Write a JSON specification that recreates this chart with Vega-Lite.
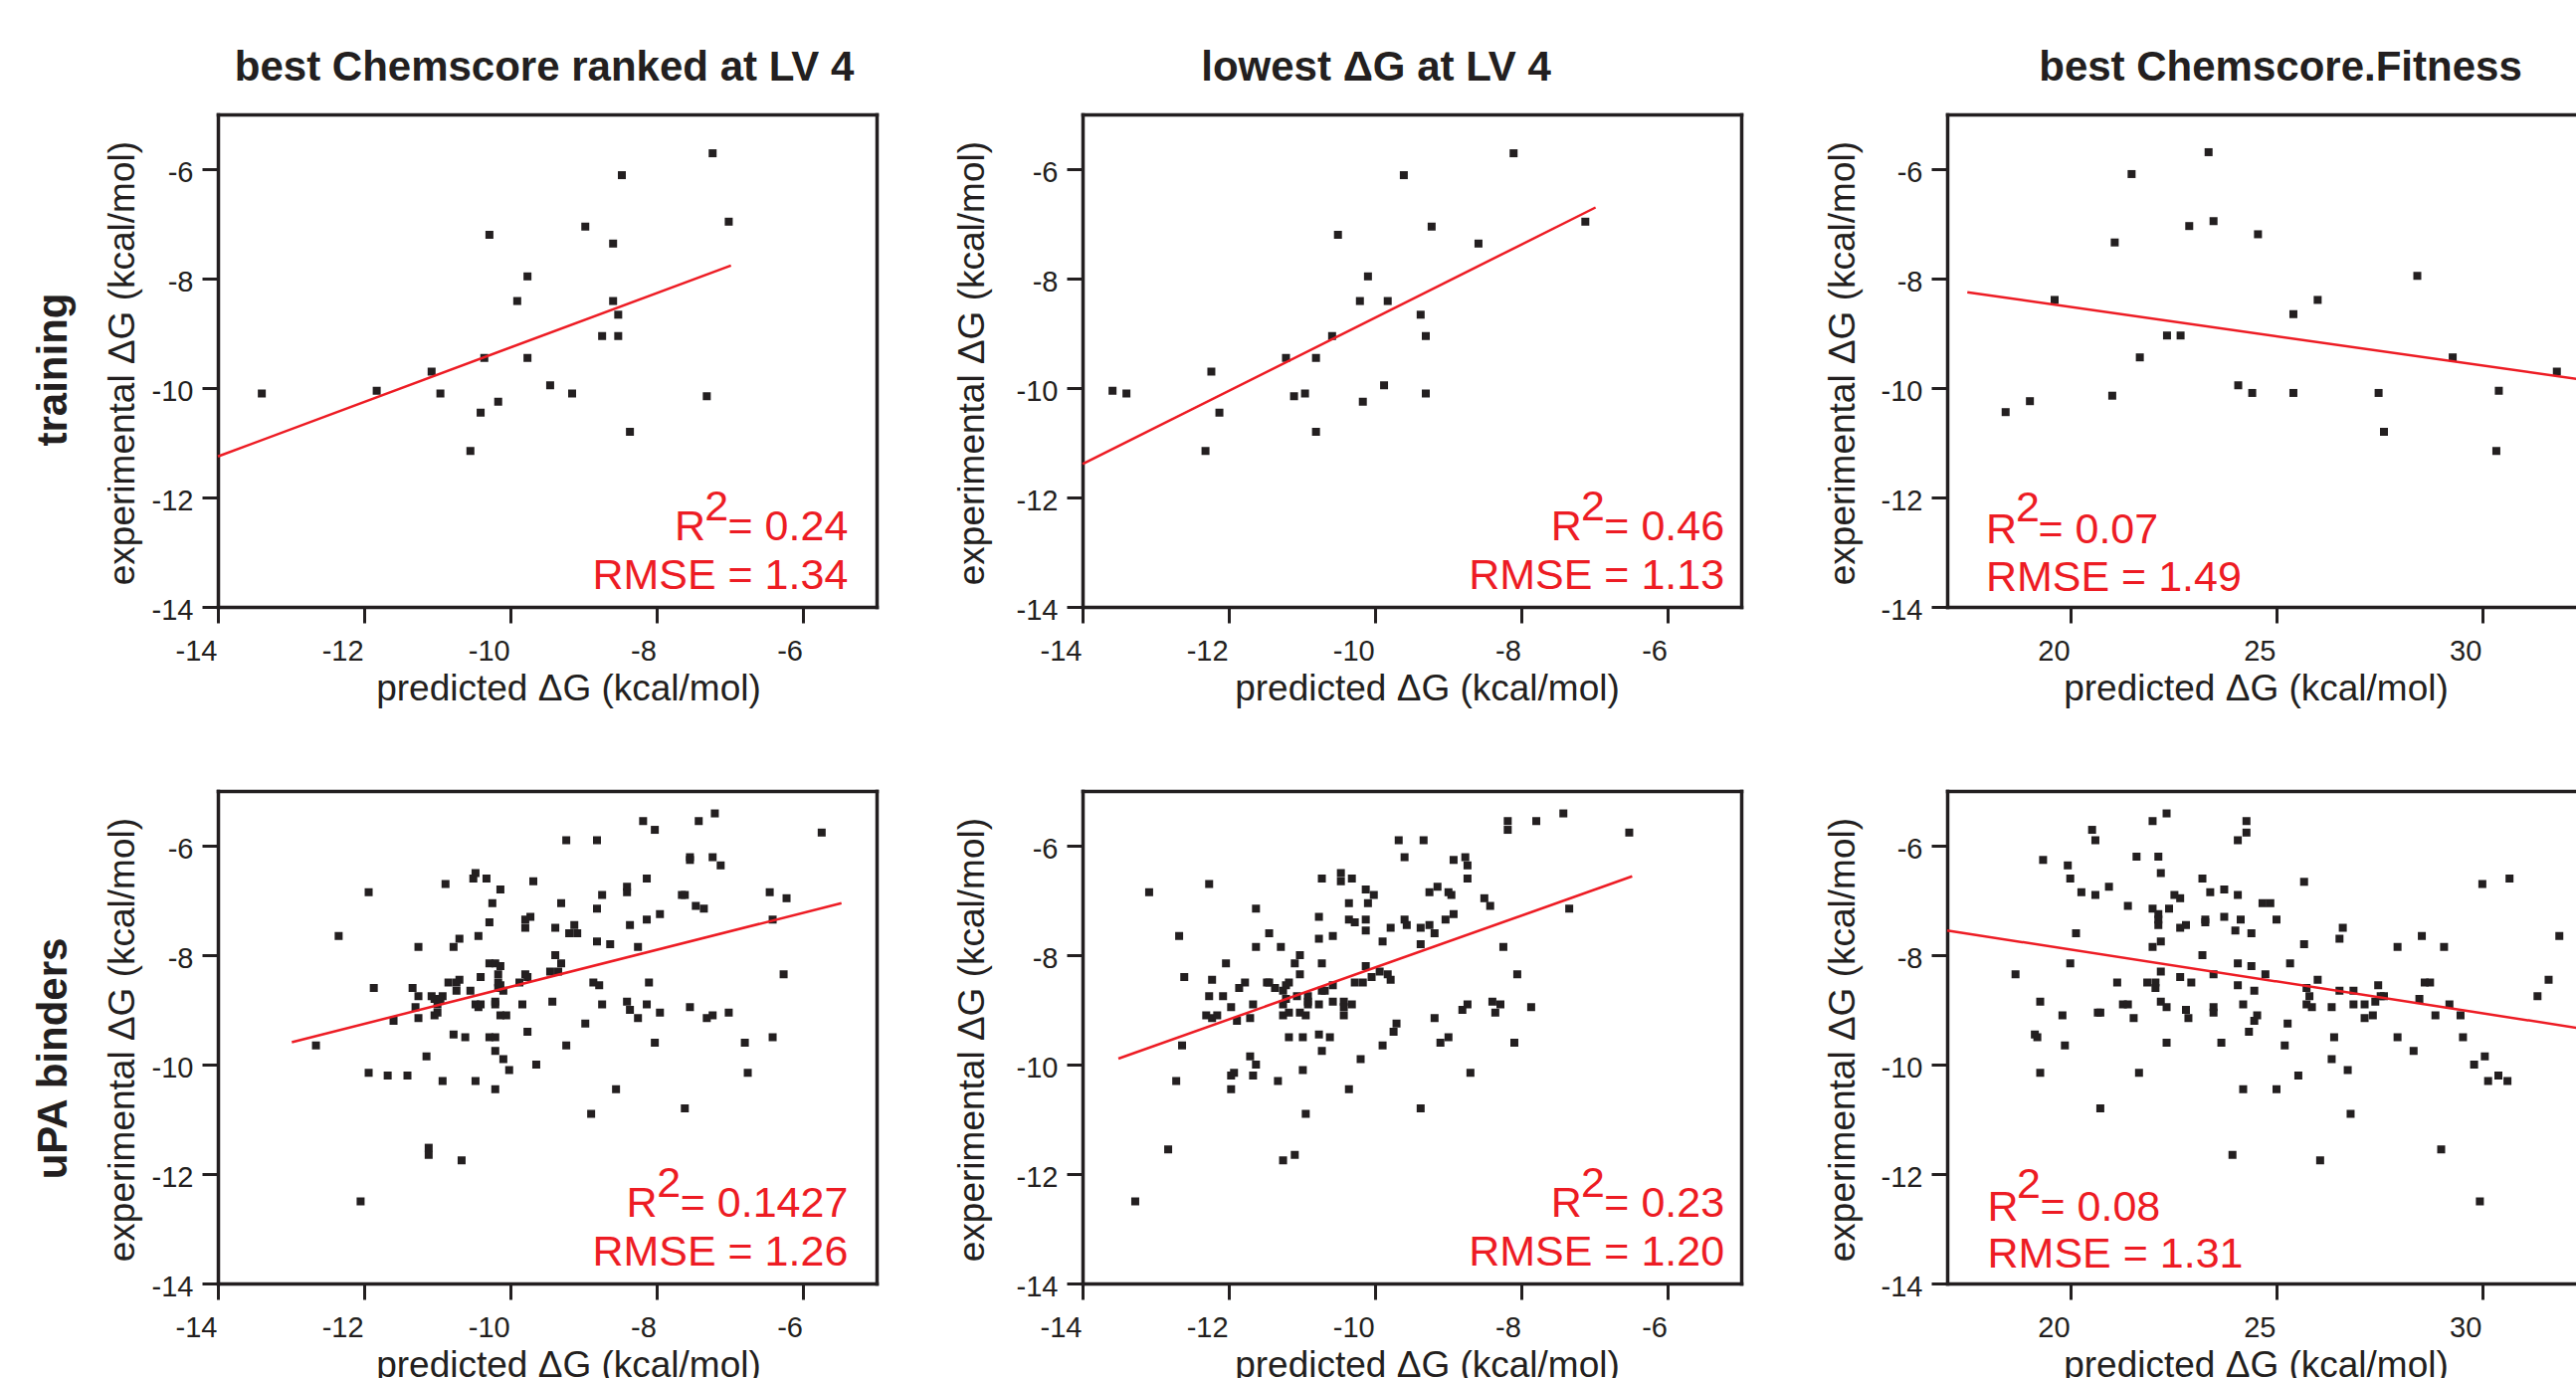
{
  "$schema": "https://vega.github.io/schema/vega-lite/v6.json",
  "padding": {"left": 31, "top": 47, "right": -31, "bottom": -4},
  "background": "white",
  "config": {
    "view": {"stroke": null},
    "font": "Liberation Sans",
    "axis": {"domainColor": "#231f20", "domainWidth": 3.5, "domainCap": "square", "tickColor": "#231f20", "tickWidth": 3, "tickSize": 16, "labelFont": "Liberation Sans", "labelFontSize": 29, "labelColor": "#231f20", "titleFont": "Liberation Sans", "titleFontSize": 37, "titleFontWeight": "normal", "titleColor": "#231f20", "grid": false, "labelFlush": false},
    "axisX": {"labelPadding": 14, "labelAlign": "right", "labelOffset": -1},
    "axisY": {"labelPadding": 9},
    "title": {"font": "Liberation Sans", "fontSize": 42, "fontWeight": "bold", "color": "#231f20", "anchor": "middle", "frame": "group", "baseline": "alphabetic", "offset": 25}
  },
  "datasets": {
    "A1": [
      {"x": -7.24, "y": -5.71}, {"x": -8.48, "y": -6.11}, {"x": -7.02, "y": -6.96}, {"x": -8.98, "y": -7.05}, {"x": -10.29, "y": -7.2},
      {"x": -8.6, "y": -7.36}, {"x": -9.77, "y": -7.96}, {"x": -9.91, "y": -8.41}, {"x": -8.6, "y": -8.41}, {"x": -8.53, "y": -8.66},
      {"x": -8.75, "y": -9.05}, {"x": -8.53, "y": -9.05}, {"x": -10.36, "y": -9.45}, {"x": -9.77, "y": -9.45}, {"x": -11.08, "y": -9.7},
      {"x": -13.4, "y": -10.1}, {"x": -11.83, "y": -10.05}, {"x": -10.96, "y": -10.1}, {"x": -9.46, "y": -9.95}, {"x": -9.16, "y": -10.1},
      {"x": -7.32, "y": -10.15}, {"x": -10.17, "y": -10.25}, {"x": -10.41, "y": -10.45}, {"x": -8.37, "y": -10.8}, {"x": -10.55, "y": -11.15}
    ],
    "A2": [
      {"x": -8.11, "y": -5.71}, {"x": -9.61, "y": -6.11}, {"x": -7.13, "y": -6.96}, {"x": -9.23, "y": -7.05}, {"x": -10.51, "y": -7.2},
      {"x": -8.59, "y": -7.36}, {"x": -10.1, "y": -7.96}, {"x": -10.21, "y": -8.41}, {"x": -9.83, "y": -8.41}, {"x": -9.38, "y": -8.66},
      {"x": -10.59, "y": -9.05}, {"x": -9.31, "y": -9.05}, {"x": -11.22, "y": -9.45}, {"x": -10.81, "y": -9.45}, {"x": -12.24, "y": -9.7},
      {"x": -13.59, "y": -10.05}, {"x": -13.4, "y": -10.1}, {"x": -11.11, "y": -10.15}, {"x": -10.96, "y": -10.1}, {"x": -9.88, "y": -9.95},
      {"x": -9.31, "y": -10.1}, {"x": -10.17, "y": -10.25}, {"x": -12.13, "y": -10.45}, {"x": -10.81, "y": -10.8}, {"x": -12.32, "y": -11.15}
    ],
    "A3": [
      {"x": 23.35, "y": -5.69}, {"x": 21.48, "y": -6.09}, {"x": 23.47, "y": -6.95}, {"x": 22.88, "y": -7.04}, {"x": 21.07, "y": -7.34},
      {"x": 24.55, "y": -7.19}, {"x": 28.42, "y": -7.95}, {"x": 19.61, "y": -8.39}, {"x": 26.0, "y": -8.39}, {"x": 25.41, "y": -8.65},
      {"x": 22.34, "y": -9.04}, {"x": 22.67, "y": -9.04}, {"x": 21.68, "y": -9.44}, {"x": 29.28, "y": -9.44}, {"x": 31.81, "y": -9.7},
      {"x": 24.07, "y": -9.95}, {"x": 24.41, "y": -10.09}, {"x": 25.41, "y": -10.09}, {"x": 27.48, "y": -10.09}, {"x": 30.4, "y": -10.05},
      {"x": 21.01, "y": -10.14}, {"x": 19.01, "y": -10.24}, {"x": 18.42, "y": -10.44}, {"x": 27.61, "y": -10.8}, {"x": 30.34, "y": -11.15}
    ],
    "B1": [
      {"x": -7.21, "y": -5.41}, {"x": -8.19, "y": -5.55}, {"x": -7.43, "y": -5.55}, {"x": -8.03, "y": -5.71}, {"x": -5.75, "y": -5.76},
      {"x": -9.24, "y": -5.9}, {"x": -8.82, "y": -5.9}, {"x": -7.55, "y": -6.21}, {"x": -7.55, "y": -6.26}, {"x": -7.24, "y": -6.21},
      {"x": -7.13, "y": -6.36}, {"x": -10.48, "y": -6.5}, {"x": -10.51, "y": -6.6}, {"x": -10.33, "y": -6.6}, {"x": -8.14, "y": -6.6},
      {"x": -10.89, "y": -6.7}, {"x": -9.69, "y": -6.65}, {"x": -10.14, "y": -6.8}, {"x": -8.41, "y": -6.75}, {"x": -8.41, "y": -6.85},
      {"x": -11.94, "y": -6.85}, {"x": -8.75, "y": -6.9}, {"x": -7.66, "y": -6.9}, {"x": -7.62, "y": -6.9}, {"x": -6.46, "y": -6.85},
      {"x": -6.23, "y": -6.96}, {"x": -10.25, "y": -7.05}, {"x": -9.31, "y": -7.05}, {"x": -8.82, "y": -7.15}, {"x": -7.47, "y": -7.1},
      {"x": -7.36, "y": -7.15}, {"x": -7.96, "y": -7.25}, {"x": -9.73, "y": -7.3}, {"x": -9.8, "y": -7.35}, {"x": -9.8, "y": -7.5},
      {"x": -10.29, "y": -7.4}, {"x": -8.14, "y": -7.35}, {"x": -8.37, "y": -7.45}, {"x": -9.13, "y": -7.45}, {"x": -9.39, "y": -7.5},
      {"x": -9.2, "y": -7.6}, {"x": -9.09, "y": -7.6}, {"x": -12.35, "y": -7.65}, {"x": -10.44, "y": -7.65}, {"x": -10.7, "y": -7.7},
      {"x": -11.26, "y": -7.85}, {"x": -10.78, "y": -7.85}, {"x": -8.82, "y": -7.75}, {"x": -8.64, "y": -7.8}, {"x": -8.26, "y": -7.85},
      {"x": -6.42, "y": -7.35}, {"x": -9.39, "y": -8.0}, {"x": -10.29, "y": -8.15}, {"x": -10.21, "y": -8.15}, {"x": -10.14, "y": -8.2},
      {"x": -9.31, "y": -8.15}, {"x": -9.46, "y": -8.3}, {"x": -9.35, "y": -8.3}, {"x": -10.17, "y": -8.35}, {"x": -9.8, "y": -8.35},
      {"x": -9.77, "y": -8.4}, {"x": -10.41, "y": -8.4}, {"x": -6.27, "y": -8.35}, {"x": -10.7, "y": -8.45}, {"x": -10.85, "y": -8.5},
      {"x": -10.74, "y": -8.5}, {"x": -10.17, "y": -8.5}, {"x": -10.14, "y": -8.55}, {"x": -9.88, "y": -8.5}, {"x": -8.87, "y": -8.5},
      {"x": -8.79, "y": -8.55}, {"x": -8.11, "y": -8.5}, {"x": -11.87, "y": -8.6}, {"x": -11.34, "y": -8.6}, {"x": -10.74, "y": -8.65},
      {"x": -10.55, "y": -8.65}, {"x": -10.17, "y": -8.6}, {"x": -10.1, "y": -8.65}, {"x": -11.26, "y": -8.75}, {"x": -11.08, "y": -8.75},
      {"x": -10.93, "y": -8.75}, {"x": -11.04, "y": -8.8}, {"x": -10.96, "y": -8.8}, {"x": -11.0, "y": -8.9}, {"x": -11.3, "y": -8.95},
      {"x": -10.48, "y": -8.9}, {"x": -10.44, "y": -8.95}, {"x": -10.41, "y": -8.9}, {"x": -10.21, "y": -8.85}, {"x": -10.21, "y": -8.9},
      {"x": -9.84, "y": -8.9}, {"x": -9.43, "y": -8.85}, {"x": -8.75, "y": -8.9}, {"x": -8.41, "y": -8.85}, {"x": -8.14, "y": -8.9},
      {"x": -8.37, "y": -9.0}, {"x": -7.55, "y": -8.95}, {"x": -7.96, "y": -9.05}, {"x": -7.02, "y": -9.05}, {"x": -11.0, "y": -9.05},
      {"x": -11.04, "y": -9.1}, {"x": -11.26, "y": -9.15}, {"x": -11.6, "y": -9.2}, {"x": -10.14, "y": -9.1}, {"x": -10.06, "y": -9.1},
      {"x": -8.26, "y": -9.15}, {"x": -7.32, "y": -9.15}, {"x": -7.24, "y": -9.1}, {"x": -8.98, "y": -9.25}, {"x": -9.77, "y": -9.4},
      {"x": -10.78, "y": -9.45}, {"x": -10.62, "y": -9.5}, {"x": -10.29, "y": -9.5}, {"x": -10.21, "y": -9.5}, {"x": -6.42, "y": -9.5},
      {"x": -9.24, "y": -9.65}, {"x": -8.03, "y": -9.6}, {"x": -6.8, "y": -9.6}, {"x": -12.66, "y": -9.65}, {"x": -10.21, "y": -9.75},
      {"x": -11.15, "y": -9.85}, {"x": -10.1, "y": -9.9}, {"x": -9.65, "y": -10.0}, {"x": -10.02, "y": -10.1}, {"x": -11.94, "y": -10.15},
      {"x": -11.68, "y": -10.2}, {"x": -11.41, "y": -10.2}, {"x": -6.76, "y": -10.15}, {"x": -10.93, "y": -10.3}, {"x": -10.48, "y": -10.3},
      {"x": -10.21, "y": -10.45}, {"x": -8.56, "y": -10.45}, {"x": -7.62, "y": -10.8}, {"x": -8.9, "y": -10.9}, {"x": -11.12, "y": -11.52},
      {"x": -11.12, "y": -11.65}, {"x": -10.67, "y": -11.75}, {"x": -12.05, "y": -12.5}
    ],
    "B2": [
      {"x": -7.43, "y": -5.41}, {"x": -8.19, "y": -5.55}, {"x": -8.19, "y": -5.71}, {"x": -7.8, "y": -5.55}, {"x": -6.53, "y": -5.76},
      {"x": -9.68, "y": -5.9}, {"x": -9.34, "y": -5.9}, {"x": -9.6, "y": -6.21}, {"x": -8.93, "y": -6.26}, {"x": -8.77, "y": -6.21},
      {"x": -8.74, "y": -6.36}, {"x": -8.74, "y": -6.6}, {"x": -10.73, "y": -6.6}, {"x": -10.47, "y": -6.5}, {"x": -10.47, "y": -6.65},
      {"x": -10.32, "y": -6.6}, {"x": -12.27, "y": -6.7}, {"x": -10.13, "y": -6.8}, {"x": -10.02, "y": -6.9}, {"x": -9.26, "y": -6.85},
      {"x": -9.15, "y": -6.75}, {"x": -9.0, "y": -6.85}, {"x": -8.96, "y": -6.9}, {"x": -8.51, "y": -6.96}, {"x": -8.43, "y": -7.1},
      {"x": -13.09, "y": -6.85}, {"x": -10.36, "y": -7.05}, {"x": -10.1, "y": -7.05}, {"x": -11.63, "y": -7.15}, {"x": -7.35, "y": -7.15},
      {"x": -10.77, "y": -7.3}, {"x": -10.36, "y": -7.35}, {"x": -10.28, "y": -7.4}, {"x": -10.13, "y": -7.35}, {"x": -9.6, "y": -7.35},
      {"x": -9.57, "y": -7.45}, {"x": -9.26, "y": -7.45}, {"x": -9.04, "y": -7.35}, {"x": -8.93, "y": -7.25}, {"x": -9.79, "y": -7.5},
      {"x": -9.38, "y": -7.5}, {"x": -10.13, "y": -7.55}, {"x": -9.19, "y": -7.6}, {"x": -11.45, "y": -7.6}, {"x": -12.68, "y": -7.65},
      {"x": -10.77, "y": -7.7}, {"x": -10.58, "y": -7.65}, {"x": -9.9, "y": -7.75}, {"x": -9.38, "y": -7.8}, {"x": -11.63, "y": -7.85},
      {"x": -11.29, "y": -7.85}, {"x": -8.25, "y": -7.85}, {"x": -11.03, "y": -8.0}, {"x": -12.04, "y": -8.15}, {"x": -11.1, "y": -8.15},
      {"x": -10.73, "y": -8.15}, {"x": -10.13, "y": -8.2}, {"x": -9.94, "y": -8.3}, {"x": -9.83, "y": -8.35}, {"x": -10.05, "y": -8.4},
      {"x": -9.79, "y": -8.45}, {"x": -11.03, "y": -8.35}, {"x": -8.06, "y": -8.35}, {"x": -12.61, "y": -8.4}, {"x": -12.23, "y": -8.45},
      {"x": -11.78, "y": -8.5}, {"x": -11.86, "y": -8.6}, {"x": -11.48, "y": -8.5}, {"x": -11.45, "y": -8.5}, {"x": -11.37, "y": -8.6},
      {"x": -11.18, "y": -8.5}, {"x": -11.22, "y": -8.55}, {"x": -11.26, "y": -8.65}, {"x": -10.58, "y": -8.55}, {"x": -10.73, "y": -8.65},
      {"x": -10.69, "y": -8.65}, {"x": -10.28, "y": -8.5}, {"x": -10.17, "y": -8.5}, {"x": -12.27, "y": -8.75}, {"x": -12.08, "y": -8.75},
      {"x": -11.07, "y": -8.75}, {"x": -10.92, "y": -8.75}, {"x": -11.22, "y": -8.8}, {"x": -10.92, "y": -8.85}, {"x": -11.97, "y": -8.95},
      {"x": -11.67, "y": -8.9}, {"x": -11.26, "y": -8.9}, {"x": -10.92, "y": -8.9}, {"x": -10.77, "y": -8.9}, {"x": -10.58, "y": -8.85},
      {"x": -10.43, "y": -8.85}, {"x": -10.43, "y": -8.95}, {"x": -10.32, "y": -8.9}, {"x": -8.74, "y": -8.9}, {"x": -8.81, "y": -9.0},
      {"x": -8.4, "y": -8.85}, {"x": -8.29, "y": -8.9}, {"x": -7.87, "y": -8.95}, {"x": -8.36, "y": -9.05}, {"x": -12.31, "y": -9.1},
      {"x": -12.23, "y": -9.15}, {"x": -12.16, "y": -9.1}, {"x": -11.89, "y": -9.2}, {"x": -11.71, "y": -9.15}, {"x": -11.26, "y": -9.1},
      {"x": -11.18, "y": -9.05}, {"x": -11.03, "y": -9.05}, {"x": -10.95, "y": -9.1}, {"x": -10.43, "y": -9.1}, {"x": -9.19, "y": -9.15},
      {"x": -9.71, "y": -9.25}, {"x": -9.75, "y": -9.4}, {"x": -11.18, "y": -9.5}, {"x": -10.99, "y": -9.5}, {"x": -10.77, "y": -9.45},
      {"x": -10.62, "y": -9.5}, {"x": -9.0, "y": -9.5}, {"x": -9.11, "y": -9.6}, {"x": -9.9, "y": -9.65}, {"x": -8.1, "y": -9.6},
      {"x": -12.64, "y": -9.65}, {"x": -10.73, "y": -9.75}, {"x": -10.2, "y": -9.9}, {"x": -11.71, "y": -9.85}, {"x": -11.63, "y": -10.0},
      {"x": -11.97, "y": -10.2}, {"x": -11.93, "y": -10.15}, {"x": -11.67, "y": -10.2}, {"x": -10.99, "y": -10.1}, {"x": -8.7, "y": -10.15},
      {"x": -12.72, "y": -10.3}, {"x": -11.33, "y": -10.3}, {"x": -11.97, "y": -10.45}, {"x": -10.36, "y": -10.45}, {"x": -9.38, "y": -10.8},
      {"x": -10.95, "y": -10.9}, {"x": -12.83, "y": -11.55}, {"x": -11.1, "y": -11.65}, {"x": -11.26, "y": -11.75}, {"x": -13.28, "y": -12.5}
    ],
    "B3": [
      {"x": 22.33, "y": -5.41}, {"x": 21.99, "y": -5.55}, {"x": 24.27, "y": -5.55}, {"x": 24.27, "y": -5.76}, {"x": 20.52, "y": -5.71},
      {"x": 20.6, "y": -5.9}, {"x": 24.06, "y": -5.9}, {"x": 19.33, "y": -6.26}, {"x": 21.6, "y": -6.2}, {"x": 22.13, "y": -6.2},
      {"x": 19.93, "y": -6.36}, {"x": 19.99, "y": -6.6}, {"x": 22.19, "y": -6.5}, {"x": 23.2, "y": -6.6}, {"x": 25.67, "y": -6.66},
      {"x": 30.0, "y": -6.7}, {"x": 30.66, "y": -6.6}, {"x": 20.93, "y": -6.75}, {"x": 20.26, "y": -6.85}, {"x": 20.6, "y": -6.9},
      {"x": 22.52, "y": -6.9}, {"x": 22.66, "y": -6.96}, {"x": 23.39, "y": -6.85}, {"x": 23.73, "y": -6.8}, {"x": 24.06, "y": -6.9},
      {"x": 24.66, "y": -7.05}, {"x": 24.85, "y": -7.05}, {"x": 21.39, "y": -7.1}, {"x": 21.99, "y": -7.15}, {"x": 22.39, "y": -7.15},
      {"x": 22.13, "y": -7.25}, {"x": 22.13, "y": -7.35}, {"x": 22.13, "y": -7.45}, {"x": 23.27, "y": -7.35}, {"x": 23.27, "y": -7.4},
      {"x": 23.73, "y": -7.3}, {"x": 24.13, "y": -7.35}, {"x": 25.0, "y": -7.35}, {"x": 22.66, "y": -7.5}, {"x": 22.8, "y": -7.45},
      {"x": 24.0, "y": -7.55}, {"x": 24.39, "y": -7.6}, {"x": 20.13, "y": -7.6}, {"x": 26.61, "y": -7.5}, {"x": 26.53, "y": -7.7},
      {"x": 28.53, "y": -7.65}, {"x": 31.87, "y": -7.65}, {"x": 22.19, "y": -7.75}, {"x": 21.99, "y": -7.85}, {"x": 25.67, "y": -7.8},
      {"x": 27.94, "y": -7.85}, {"x": 29.07, "y": -7.85}, {"x": 23.2, "y": -8.0}, {"x": 19.99, "y": -8.15}, {"x": 24.06, "y": -8.15},
      {"x": 25.33, "y": -8.15}, {"x": 24.39, "y": -8.2}, {"x": 18.66, "y": -8.35}, {"x": 22.19, "y": -8.3}, {"x": 23.47, "y": -8.35},
      {"x": 24.73, "y": -8.35}, {"x": 22.66, "y": -8.4}, {"x": 26.0, "y": -8.45}, {"x": 31.61, "y": -8.45}, {"x": 21.13, "y": -8.5},
      {"x": 21.86, "y": -8.5}, {"x": 22.06, "y": -8.5}, {"x": 22.06, "y": -8.6}, {"x": 22.93, "y": -8.5}, {"x": 24.06, "y": -8.55},
      {"x": 27.47, "y": -8.55}, {"x": 28.6, "y": -8.5}, {"x": 28.73, "y": -8.5}, {"x": 25.73, "y": -8.6}, {"x": 24.46, "y": -8.65},
      {"x": 26.53, "y": -8.65}, {"x": 26.87, "y": -8.65}, {"x": 25.8, "y": -8.75}, {"x": 27.53, "y": -8.75}, {"x": 27.61, "y": -8.75},
      {"x": 31.34, "y": -8.75}, {"x": 28.47, "y": -8.8}, {"x": 19.26, "y": -8.85}, {"x": 21.27, "y": -8.9}, {"x": 21.39, "y": -8.9},
      {"x": 22.19, "y": -8.85}, {"x": 22.33, "y": -8.95}, {"x": 24.19, "y": -8.9}, {"x": 25.73, "y": -8.9}, {"x": 25.86, "y": -8.95},
      {"x": 26.34, "y": -8.95}, {"x": 26.87, "y": -8.9}, {"x": 27.14, "y": -8.9}, {"x": 27.4, "y": -8.85}, {"x": 29.2, "y": -8.9},
      {"x": 23.47, "y": -8.95}, {"x": 23.47, "y": -9.05}, {"x": 22.8, "y": -9.0}, {"x": 19.8, "y": -9.1}, {"x": 20.66, "y": -9.05},
      {"x": 20.72, "y": -9.05}, {"x": 21.53, "y": -9.15}, {"x": 22.86, "y": -9.15}, {"x": 24.53, "y": -9.1}, {"x": 24.46, "y": -9.2},
      {"x": 27.14, "y": -9.15}, {"x": 27.34, "y": -9.1}, {"x": 28.86, "y": -9.1}, {"x": 29.47, "y": -9.1}, {"x": 25.27, "y": -9.25},
      {"x": 24.33, "y": -9.4}, {"x": 19.13, "y": -9.45}, {"x": 19.19, "y": -9.5}, {"x": 26.4, "y": -9.5}, {"x": 27.94, "y": -9.5},
      {"x": 29.53, "y": -9.5}, {"x": 22.33, "y": -9.6}, {"x": 23.66, "y": -9.6}, {"x": 25.2, "y": -9.65}, {"x": 19.86, "y": -9.65},
      {"x": 28.33, "y": -9.75}, {"x": 30.06, "y": -9.85}, {"x": 26.34, "y": -9.9}, {"x": 29.8, "y": -10.0}, {"x": 19.26, "y": -10.15},
      {"x": 21.66, "y": -10.15}, {"x": 26.73, "y": -10.1}, {"x": 25.53, "y": -10.2}, {"x": 30.14, "y": -10.3}, {"x": 30.39, "y": -10.2},
      {"x": 30.61, "y": -10.3}, {"x": 24.19, "y": -10.45}, {"x": 25.0, "y": -10.45}, {"x": 20.72, "y": -10.8}, {"x": 26.8, "y": -10.9},
      {"x": 23.93, "y": -11.65}, {"x": 26.06, "y": -11.75}, {"x": 29.0, "y": -11.55}, {"x": 29.94, "y": -12.5}
    ],
    "fit": [
      {"p": "A1", "x": -14, "y": -11.25}, {"p": "A1", "x": -6.99, "y": -7.76},
      {"p": "A2", "x": -14, "y": -11.39}, {"p": "A2", "x": -6.99, "y": -6.7},
      {"p": "A3", "x": 17.49, "y": -8.25}, {"p": "A3", "x": 33, "y": -9.91},
      {"p": "B1", "x": -12.99, "y": -9.59}, {"p": "B1", "x": -5.48, "y": -7.05},
      {"p": "B2", "x": -13.51, "y": -9.89}, {"p": "B2", "x": -6.49, "y": -6.56},
      {"p": "B3", "x": 17.0, "y": -7.55}, {"p": "B3", "x": 33, "y": -9.41}
    ],
    "lab": [
      {"p": "A1", "s": "L", "t": "R", "x": -7.76, "y": -12.79},
      {"p": "A1", "s": "L", "t": "2", "x": -7.35, "y": -12.42},
      {"p": "A1", "s": "R", "t": "= 0.24", "x": -5.39, "y": -12.79},
      {"p": "A1", "s": "R", "t": "RMSE = 1.34", "x": -5.39, "y": -13.67},
      {"p": "A2", "s": "L", "t": "R", "x": -7.6, "y": -12.79},
      {"p": "A2", "s": "L", "t": "2", "x": -7.19, "y": -12.42},
      {"p": "A2", "s": "R", "t": "= 0.46", "x": -5.23, "y": -12.79},
      {"p": "A2", "s": "R", "t": "RMSE = 1.13", "x": -5.23, "y": -13.67},
      {"p": "A3", "s": "L", "t": "R", "x": 17.94, "y": -12.83},
      {"p": "A3", "s": "L", "t": "2", "x": 18.67, "y": -12.44},
      {"p": "A3", "s": "L", "t": "= 0.07", "x": 19.21, "y": -12.83},
      {"p": "A3", "s": "L", "t": "RMSE = 1.49", "x": 17.94, "y": -13.7},
      {"p": "B1", "s": "L", "t": "R", "x": -8.42, "y": -12.79},
      {"p": "B1", "s": "L", "t": "2", "x": -8.0, "y": -12.42},
      {"p": "B1", "s": "R", "t": "= 0.1427", "x": -5.39, "y": -12.79},
      {"p": "B1", "s": "R", "t": "RMSE = 1.26", "x": -5.39, "y": -13.67},
      {"p": "B2", "s": "L", "t": "R", "x": -7.6, "y": -12.79},
      {"p": "B2", "s": "L", "t": "2", "x": -7.19, "y": -12.42},
      {"p": "B2", "s": "R", "t": "= 0.23", "x": -5.23, "y": -12.79},
      {"p": "B2", "s": "R", "t": "RMSE = 1.20", "x": -5.23, "y": -13.67},
      {"p": "B3", "s": "L", "t": "R", "x": 17.98, "y": -12.85},
      {"p": "B3", "s": "L", "t": "2", "x": 18.69, "y": -12.44},
      {"p": "B3", "s": "L", "t": "= 0.08", "x": 19.26, "y": -12.85},
      {"p": "B3", "s": "L", "t": "RMSE = 1.31", "x": 17.98, "y": -13.71}
    ]
  },
  "columns": 3,
  "spacing": {"row": 185, "column": 207},
  "bounds": "flush",
  "concat": [
    {
      "width": 662, "height": 495,
      "title": {"text": "best Chemscore ranked at LV 4", "dx": -3},
      "layer": [
        {"data": {"name": "A1"}, "mark": {"type": "point", "shape": "square", "filled": true, "size": 64, "color": "#231f20", "opacity": 1},
         "encoding": {
           "x": {"field": "x", "type": "quantitative", "scale": {"domain": [-14, -5], "nice": false, "zero": false}, "axis": {"orient": "bottom", "values": [-14, -12, -10, -8, -6], "title": "predicted ΔG (kcal/mol)", "titleX": 352, "titleY": 93, "titleBaseline": "alphabetic", "titleAlign": "center", "labelExpr": "replace(datum.label, '−', '-')"}},
           "y": {"field": "y", "type": "quantitative", "scale": {"domain": [-14, -5], "nice": false, "zero": false}, "axis": {"orient": "left", "values": [-14, -12, -10, -8, -6], "title": "experimental ΔG (kcal/mol)", "titleX": -85, "titleY": 249.6, "titleBaseline": "alphabetic", "labelOffset": 3, "labelExpr": "replace(datum.label, '−', '-')"}}
         }},
        {"data": {"name": "fit"}, "transform": [{"filter": "datum.p == 'A1'"}], "mark": {"type": "line", "color": "#ed1c24", "strokeWidth": 2.5},
         "encoding": {
           "x": {"field": "x", "type": "quantitative", "scale": {"domain": [-14, -5], "nice": false, "zero": false}, "axis": {"orient": "top", "labels": false, "ticks": false, "title": null}},
           "y": {"field": "y", "type": "quantitative", "scale": {"domain": [-14, -5], "nice": false, "zero": false}, "axis": {"orient": "right", "labels": false, "ticks": false, "title": null}}
         }},
        {"data": {"name": "lab"}, "transform": [{"filter": "datum.p == 'A1' && datum.s == 'L'"}], "mark": {"type": "text", "align": "left", "baseline": "alphabetic", "fontSize": 43, "color": "#ed1c24"},
         "encoding": {
           "x": {"field": "x", "type": "quantitative", "scale": {"domain": [-14, -5], "nice": false, "zero": false}, "axis": null},
           "y": {"field": "y", "type": "quantitative", "scale": {"domain": [-14, -5], "nice": false, "zero": false}, "axis": {"orient": "left", "domain": false, "ticks": false, "labels": false, "title": "training", "titleFontSize": 42, "titleFontWeight": "bold", "titleX": -153, "titleY": 256, "titleAngle": -90, "titleBaseline": "alphabetic"}},
           "text": {"field": "t"}
         }},
        {"data": {"name": "lab"}, "transform": [{"filter": "datum.p == 'A1' && datum.s == 'R'"}], "mark": {"type": "text", "align": "right", "baseline": "alphabetic", "fontSize": 43, "color": "#ed1c24"},
         "encoding": {
           "x": {"field": "x", "type": "quantitative", "scale": {"domain": [-14, -5], "nice": false, "zero": false}, "axis": null},
           "y": {"field": "y", "type": "quantitative", "scale": {"domain": [-14, -5], "nice": false, "zero": false}, "axis": null},
           "text": {"field": "t"}
         }}
      ],
      "resolve": {"axis": {"x": "independent", "y": "independent"}}
    },
    {
      "width": 662, "height": 495,
      "title": {"text": "lowest ΔG at LV 4", "dx": -36},
      "layer": [
        {"data": {"name": "A2"}, "mark": {"type": "point", "shape": "square", "filled": true, "size": 64, "color": "#231f20", "opacity": 1},
         "encoding": {
           "x": {"field": "x", "type": "quantitative", "scale": {"domain": [-14, -5], "nice": false, "zero": false}, "axis": {"orient": "bottom", "values": [-14, -12, -10, -8, -6], "title": "predicted ΔG (kcal/mol)", "titleX": 346, "titleY": 93, "titleBaseline": "alphabetic", "titleAlign": "center", "labelExpr": "replace(datum.label, '−', '-')"}},
           "y": {"field": "y", "type": "quantitative", "scale": {"domain": [-14, -5], "nice": false, "zero": false}, "axis": {"orient": "left", "values": [-14, -12, -10, -8, -6], "title": "experimental ΔG (kcal/mol)", "titleX": -100, "titleY": 249.6, "titleBaseline": "alphabetic", "labelOffset": 3, "labelExpr": "replace(datum.label, '−', '-')"}}
         }},
        {"data": {"name": "fit"}, "transform": [{"filter": "datum.p == 'A2'"}], "mark": {"type": "line", "color": "#ed1c24", "strokeWidth": 2.5},
         "encoding": {
           "x": {"field": "x", "type": "quantitative", "scale": {"domain": [-14, -5], "nice": false, "zero": false}, "axis": {"orient": "top", "labels": false, "ticks": false, "title": null}},
           "y": {"field": "y", "type": "quantitative", "scale": {"domain": [-14, -5], "nice": false, "zero": false}, "axis": {"orient": "right", "labels": false, "ticks": false, "title": null}}
         }},
        {"data": {"name": "lab"}, "transform": [{"filter": "datum.p == 'A2' && datum.s == 'L'"}], "mark": {"type": "text", "align": "left", "baseline": "alphabetic", "fontSize": 43, "color": "#ed1c24"},
         "encoding": {
           "x": {"field": "x", "type": "quantitative", "scale": {"domain": [-14, -5], "nice": false, "zero": false}, "axis": null},
           "y": {"field": "y", "type": "quantitative", "scale": {"domain": [-14, -5], "nice": false, "zero": false}, "axis": null},
           "text": {"field": "t"}
         }},
        {"data": {"name": "lab"}, "transform": [{"filter": "datum.p == 'A2' && datum.s == 'R'"}], "mark": {"type": "text", "align": "right", "baseline": "alphabetic", "fontSize": 43, "color": "#ed1c24"},
         "encoding": {
           "x": {"field": "x", "type": "quantitative", "scale": {"domain": [-14, -5], "nice": false, "zero": false}, "axis": null},
           "y": {"field": "y", "type": "quantitative", "scale": {"domain": [-14, -5], "nice": false, "zero": false}, "axis": null},
           "text": {"field": "t"}
         }}
      ],
      "resolve": {"axis": {"x": "independent", "y": "independent"}}
    },
    {
      "width": 662, "height": 495,
      "title": {"text": "best Chemscore.Fitness", "dx": 4},
      "layer": [
        {"data": {"name": "A3"}, "mark": {"type": "point", "shape": "square", "filled": true, "size": 64, "color": "#231f20", "opacity": 1},
         "encoding": {
           "x": {"field": "x", "type": "quantitative", "scale": {"domain": [17, 33], "nice": false, "zero": false}, "axis": {"orient": "bottom", "values": [20, 25, 30], "title": "predicted ΔG (kcal/mol)", "titleX": 310, "titleY": 93, "titleBaseline": "alphabetic", "titleAlign": "center"}},
           "y": {"field": "y", "type": "quantitative", "scale": {"domain": [-14, -5], "nice": false, "zero": false}, "axis": {"orient": "left", "values": [-14, -12, -10, -8, -6], "title": "experimental ΔG (kcal/mol)", "titleX": -94, "titleY": 249.6, "titleBaseline": "alphabetic", "labelOffset": 3, "labelExpr": "replace(datum.label, '−', '-')"}}
         }},
        {"data": {"name": "fit"}, "transform": [{"filter": "datum.p == 'A3'"}], "mark": {"type": "line", "color": "#ed1c24", "strokeWidth": 2.5},
         "encoding": {
           "x": {"field": "x", "type": "quantitative", "scale": {"domain": [17, 33], "nice": false, "zero": false}, "axis": {"orient": "top", "labels": false, "ticks": false, "title": null}},
           "y": {"field": "y", "type": "quantitative", "scale": {"domain": [-14, -5], "nice": false, "zero": false}, "axis": null}
         }},
        {"data": {"name": "lab"}, "transform": [{"filter": "datum.p == 'A3'"}], "mark": {"type": "text", "align": "left", "baseline": "alphabetic", "fontSize": 43, "color": "#ed1c24"},
         "encoding": {
           "x": {"field": "x", "type": "quantitative", "scale": {"domain": [17, 33], "nice": false, "zero": false}, "axis": null},
           "y": {"field": "y", "type": "quantitative", "scale": {"domain": [-14, -5], "nice": false, "zero": false}, "axis": null},
           "text": {"field": "t"}
         }}
      ],
      "resolve": {"axis": {"x": "independent", "y": "independent"}}
    },
    {
      "width": 662, "height": 495,
      "layer": [
        {"data": {"name": "B1"}, "mark": {"type": "point", "shape": "square", "filled": true, "size": 64, "color": "#231f20", "opacity": 1},
         "encoding": {
           "x": {"field": "x", "type": "quantitative", "scale": {"domain": [-14, -5], "nice": false, "zero": false}, "axis": {"orient": "bottom", "values": [-14, -12, -10, -8, -6], "title": "predicted ΔG (kcal/mol)", "titleX": 352, "titleY": 93, "titleBaseline": "alphabetic", "titleAlign": "center", "labelExpr": "replace(datum.label, '−', '-')"}},
           "y": {"field": "y", "type": "quantitative", "scale": {"domain": [-14, -5], "nice": false, "zero": false}, "axis": {"orient": "left", "values": [-14, -12, -10, -8, -6], "title": "experimental ΔG (kcal/mol)", "titleX": -85, "titleY": 249.6, "titleBaseline": "alphabetic", "labelOffset": 3, "labelExpr": "replace(datum.label, '−', '-')"}}
         }},
        {"data": {"name": "fit"}, "transform": [{"filter": "datum.p == 'B1'"}], "mark": {"type": "line", "color": "#ed1c24", "strokeWidth": 2.5},
         "encoding": {
           "x": {"field": "x", "type": "quantitative", "scale": {"domain": [-14, -5], "nice": false, "zero": false}, "axis": {"orient": "top", "labels": false, "ticks": false, "title": null}},
           "y": {"field": "y", "type": "quantitative", "scale": {"domain": [-14, -5], "nice": false, "zero": false}, "axis": {"orient": "right", "labels": false, "ticks": false, "title": null}}
         }},
        {"data": {"name": "lab"}, "transform": [{"filter": "datum.p == 'B1' && datum.s == 'L'"}], "mark": {"type": "text", "align": "left", "baseline": "alphabetic", "fontSize": 43, "color": "#ed1c24"},
         "encoding": {
           "x": {"field": "x", "type": "quantitative", "scale": {"domain": [-14, -5], "nice": false, "zero": false}, "axis": null},
           "y": {"field": "y", "type": "quantitative", "scale": {"domain": [-14, -5], "nice": false, "zero": false}, "axis": {"orient": "left", "domain": false, "ticks": false, "labels": false, "title": "uPA binders", "titleFontSize": 42, "titleFontWeight": "bold", "titleX": -153, "titleY": 268.5, "titleAngle": -90, "titleBaseline": "alphabetic"}},
           "text": {"field": "t"}
         }},
        {"data": {"name": "lab"}, "transform": [{"filter": "datum.p == 'B1' && datum.s == 'R'"}], "mark": {"type": "text", "align": "right", "baseline": "alphabetic", "fontSize": 43, "color": "#ed1c24"},
         "encoding": {
           "x": {"field": "x", "type": "quantitative", "scale": {"domain": [-14, -5], "nice": false, "zero": false}, "axis": null},
           "y": {"field": "y", "type": "quantitative", "scale": {"domain": [-14, -5], "nice": false, "zero": false}, "axis": null},
           "text": {"field": "t"}
         }}
      ],
      "resolve": {"axis": {"x": "independent", "y": "independent"}}
    },
    {
      "width": 662, "height": 495,
      "layer": [
        {"data": {"name": "B2"}, "mark": {"type": "point", "shape": "square", "filled": true, "size": 64, "color": "#231f20", "opacity": 1},
         "encoding": {
           "x": {"field": "x", "type": "quantitative", "scale": {"domain": [-14, -5], "nice": false, "zero": false}, "axis": {"orient": "bottom", "values": [-14, -12, -10, -8, -6], "title": "predicted ΔG (kcal/mol)", "titleX": 346, "titleY": 93, "titleBaseline": "alphabetic", "titleAlign": "center", "labelExpr": "replace(datum.label, '−', '-')"}},
           "y": {"field": "y", "type": "quantitative", "scale": {"domain": [-14, -5], "nice": false, "zero": false}, "axis": {"orient": "left", "values": [-14, -12, -10, -8, -6], "title": "experimental ΔG (kcal/mol)", "titleX": -100, "titleY": 249.6, "titleBaseline": "alphabetic", "labelOffset": 3, "labelExpr": "replace(datum.label, '−', '-')"}}
         }},
        {"data": {"name": "fit"}, "transform": [{"filter": "datum.p == 'B2'"}], "mark": {"type": "line", "color": "#ed1c24", "strokeWidth": 2.5},
         "encoding": {
           "x": {"field": "x", "type": "quantitative", "scale": {"domain": [-14, -5], "nice": false, "zero": false}, "axis": {"orient": "top", "labels": false, "ticks": false, "title": null}},
           "y": {"field": "y", "type": "quantitative", "scale": {"domain": [-14, -5], "nice": false, "zero": false}, "axis": {"orient": "right", "labels": false, "ticks": false, "title": null}}
         }},
        {"data": {"name": "lab"}, "transform": [{"filter": "datum.p == 'B2' && datum.s == 'L'"}], "mark": {"type": "text", "align": "left", "baseline": "alphabetic", "fontSize": 43, "color": "#ed1c24"},
         "encoding": {
           "x": {"field": "x", "type": "quantitative", "scale": {"domain": [-14, -5], "nice": false, "zero": false}, "axis": null},
           "y": {"field": "y", "type": "quantitative", "scale": {"domain": [-14, -5], "nice": false, "zero": false}, "axis": null},
           "text": {"field": "t"}
         }},
        {"data": {"name": "lab"}, "transform": [{"filter": "datum.p == 'B2' && datum.s == 'R'"}], "mark": {"type": "text", "align": "right", "baseline": "alphabetic", "fontSize": 43, "color": "#ed1c24"},
         "encoding": {
           "x": {"field": "x", "type": "quantitative", "scale": {"domain": [-14, -5], "nice": false, "zero": false}, "axis": null},
           "y": {"field": "y", "type": "quantitative", "scale": {"domain": [-14, -5], "nice": false, "zero": false}, "axis": null},
           "text": {"field": "t"}
         }}
      ],
      "resolve": {"axis": {"x": "independent", "y": "independent"}}
    },
    {
      "width": 662, "height": 495,
      "layer": [
        {"data": {"name": "B3"}, "mark": {"type": "point", "shape": "square", "filled": true, "size": 64, "color": "#231f20", "opacity": 1},
         "encoding": {
           "x": {"field": "x", "type": "quantitative", "scale": {"domain": [17, 33], "nice": false, "zero": false}, "axis": {"orient": "bottom", "values": [20, 25, 30], "title": "predicted ΔG (kcal/mol)", "titleX": 310, "titleY": 93, "titleBaseline": "alphabetic", "titleAlign": "center"}},
           "y": {"field": "y", "type": "quantitative", "scale": {"domain": [-14, -5], "nice": false, "zero": false}, "axis": {"orient": "left", "values": [-14, -12, -10, -8, -6], "title": "experimental ΔG (kcal/mol)", "titleX": -94, "titleY": 249.6, "titleBaseline": "alphabetic", "labelOffset": 3, "labelExpr": "replace(datum.label, '−', '-')"}}
         }},
        {"data": {"name": "fit"}, "transform": [{"filter": "datum.p == 'B3'"}], "mark": {"type": "line", "color": "#ed1c24", "strokeWidth": 2.5},
         "encoding": {
           "x": {"field": "x", "type": "quantitative", "scale": {"domain": [17, 33], "nice": false, "zero": false}, "axis": {"orient": "top", "labels": false, "ticks": false, "title": null}},
           "y": {"field": "y", "type": "quantitative", "scale": {"domain": [-14, -5], "nice": false, "zero": false}, "axis": null}
         }},
        {"data": {"name": "lab"}, "transform": [{"filter": "datum.p == 'B3'"}], "mark": {"type": "text", "align": "left", "baseline": "alphabetic", "fontSize": 43, "color": "#ed1c24"},
         "encoding": {
           "x": {"field": "x", "type": "quantitative", "scale": {"domain": [17, 33], "nice": false, "zero": false}, "axis": null},
           "y": {"field": "y", "type": "quantitative", "scale": {"domain": [-14, -5], "nice": false, "zero": false}, "axis": null},
           "text": {"field": "t"}
         }}
      ],
      "resolve": {"axis": {"x": "independent", "y": "independent"}}
    }
  ]
}
